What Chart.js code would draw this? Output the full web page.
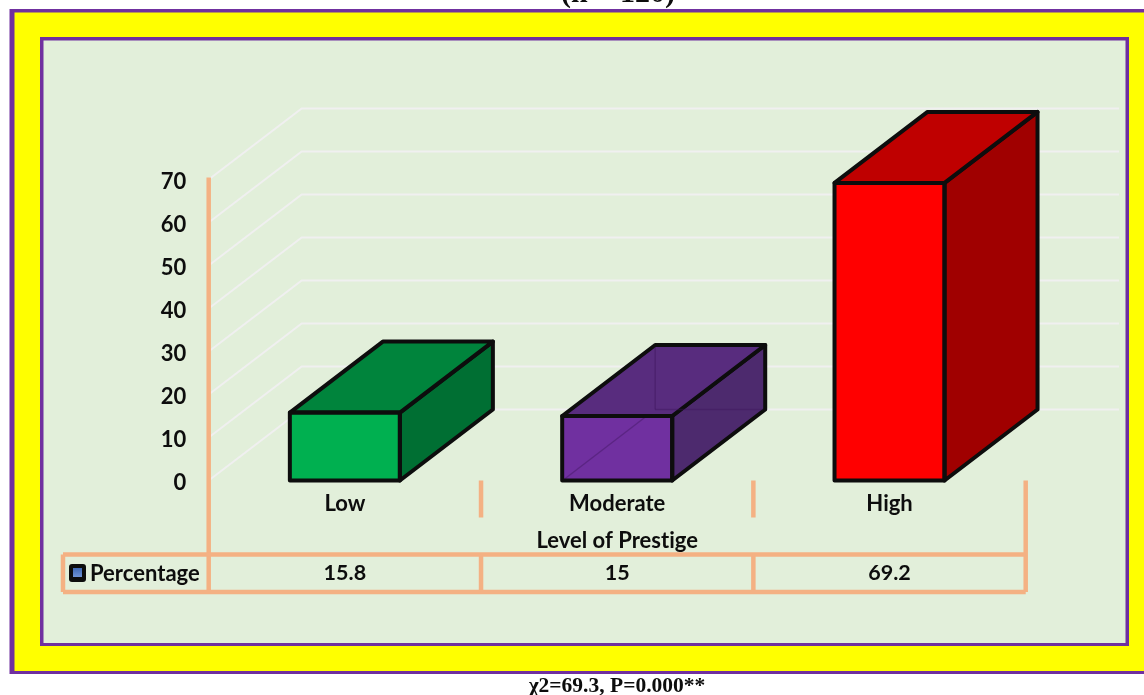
<!DOCTYPE html>
<html lang="en">
  <head>
    <meta charset="UTF-8" />
    <title>Level of Prestige</title>
    <script src="https://cdn.jsdelivr.net/npm/chart.js"></script>
    <style>
      html, body { margin: 0; padding: 0; background: #fff; }
      canvas { display: block; }
    </style>
  </head>
  <body>
    <canvas id="myChart" width="1144" height="695"></canvas>

    <script>
      const categories = ["Low", "Moderate", "High"];
      const percentages = [15.8, 15, 69.2];
      const seriesName = "Percentage";
      const axisTitle = "Level of Prestige";
      const sampleNote = "(n = 120)";
      const testNote = "χ2=69.3, P=0.000**";

      // Box colours, one per category
      const frontColors = ["#00b050", "#7030a0", "#ff0000"];
      const topColors = ["#00843c", "#582c7e", "#bf0000"];
      const sideColors = ["#006f33", "#4d2a6e", "#a00000"];
      // Moderate box lets its back edges show through
      const backEdgeColors = [null, "rgba(60, 20, 90, 0.4)", null];

      const PURPLE = "#7030a0";
      const PEACH = "#f4b183";
      const INK = "#0d0d0d";
      const WORD_FONT = "bold 22px Lato";
      const NUMBER_FONT = "bold 21.5px Lato";

      // Oblique offset of the back wall
      const DEPTH_X = 93;
      const DEPTH_Y = 71;

      function line(ctx, x1, y1, x2, y2) {
        ctx.beginPath();
        ctx.moveTo(x1, y1);
        ctx.lineTo(x2, y2);
        ctx.stroke();
      }

      function poly(ctx, points, fill) {
        ctx.beginPath();
        points.forEach((p, i) => (i ? ctx.lineTo(p[0], p[1]) : ctx.moveTo(p[0], p[1])));
        ctx.closePath();
        ctx.fillStyle = fill;
        ctx.fill();
        ctx.stroke();
      }

      function label(ctx, text, x, y, font, align) {
        ctx.font = font;
        ctx.fillStyle = INK;
        ctx.textAlign = align || "center";
        ctx.textBaseline = "middle";
        ctx.letterSpacing = "0.01px"; // keeps the "ti" in Prestige unjoined
        ctx.fillText(text, x, y);
      }

      const frames = {
        id: "frames",
        beforeDraw(chart) {
          const ctx = chart.ctx;
          ctx.save();
          ctx.fillStyle = PURPLE;
          ctx.fillRect(9.5, 9, 1134.5, 665);
          ctx.fillStyle = "#ffff00";
          ctx.fillRect(14.5, 12.5, 1129.5, 658.5);
          ctx.fillStyle = PURPLE;
          ctx.fillRect(40, 37, 1089, 609);
          ctx.fillStyle = "#e2efda";
          ctx.fillRect(43.5, 40.5, 1082, 602.5);
          ctx.restore();
        },
      };

      // Back wall lines: each y tick runs up the side wall, then along the back
      const wall = {
        id: "wall",
        beforeDatasetsDraw(chart) {
          const ctx = chart.ctx;
          const y = chart.scales.y;
          const x0 = chart.chartArea.left;
          ctx.save();
          ctx.strokeStyle = "#f0f0f0";
          ctx.lineWidth = 2;
          y.ticks.forEach((tick) => {
            const py = y.getPixelForValue(tick.value);
            ctx.beginPath();
            ctx.moveTo(x0, py);
            ctx.lineTo(x0 + DEPTH_X, py - DEPTH_Y);
            ctx.lineTo(1119, py - DEPTH_Y);
            ctx.stroke();
          });
          ctx.restore();
        },
      };

      // Side and top faces plus the outline, built on each bar element
      const boxes = {
        id: "boxes",
        afterDatasetsDraw(chart) {
          const ctx = chart.ctx;
          ctx.save();
          chart.getDatasetMeta(0).data.forEach((bar, i) => {
            const l = bar.x - bar.width / 2;
            const r = bar.x + bar.width / 2;
            const t = bar.y;
            const b = bar.base;
            if (backEdgeColors[i]) {
              ctx.strokeStyle = backEdgeColors[i];
              ctx.lineWidth = 1.5;
              line(ctx, l + 3, b - 2, l + DEPTH_X, b - DEPTH_Y);
            }
            ctx.strokeStyle = INK;
            ctx.lineWidth = 4;
            ctx.lineJoin = "round";
            poly(ctx, [[r, t], [r + DEPTH_X, t - DEPTH_Y], [r + DEPTH_X, b - DEPTH_Y], [r, b]], sideColors[i]);
            poly(ctx, [[l, t], [l + DEPTH_X, t - DEPTH_Y], [r + DEPTH_X, t - DEPTH_Y], [r, t]], topColors[i]);
            if (backEdgeColors[i]) {
              ctx.strokeStyle = backEdgeColors[i];
              ctx.lineWidth = 1.5;
              line(ctx, l + DEPTH_X, t - DEPTH_Y + 2, l + DEPTH_X, b - DEPTH_Y);
              line(ctx, l + DEPTH_X, b - DEPTH_Y, r + DEPTH_X - 2, b - DEPTH_Y);
            }
            ctx.strokeStyle = INK;
            ctx.lineWidth = 4;
            ctx.strokeRect(l, t, r - l, b - t);
          });
          ctx.restore();
        },
      };

      // Axis lines, data table under the plot and the surrounding notes
      const dataTable = {
        id: "dataTable",
        afterDraw(chart) {
          const ctx = chart.ctx;
          const area = chart.chartArea;
          const x = chart.scales.x;
          const step = x.getPixelForValue(1) - x.getPixelForValue(0);
          const edges = [area.left, area.left + step, area.left + step * 2, area.right];
          const tableTop = 554.5;
          const tableBottom = 592;
          const tableLeft = 63;

          ctx.save();
          ctx.strokeStyle = PEACH;
          ctx.lineWidth = 4.5;
          ctx.lineCap = "butt";
          line(ctx, area.left, 177.5, area.left, tableBottom);
          line(ctx, area.right, area.bottom, area.right, tableBottom);
          edges.slice(1, 3).forEach((ex) => {
            line(ctx, ex, area.bottom, ex, 517.5);
            line(ctx, ex, tableTop, ex, tableBottom);
          });
          line(ctx, tableLeft, tableTop, area.right, tableTop);
          line(ctx, tableLeft, tableBottom, area.right, tableBottom);
          line(ctx, tableLeft, tableTop, tableLeft, tableBottom);

          label(ctx, axisTitle, x.getPixelForValue(1), 540.5, WORD_FONT);
          const rowY = 573.5;
          percentages.forEach((v, i) => {
            label(ctx, String(v), x.getPixelForValue(i), rowY, NUMBER_FONT);
          });

          // legend key
          ctx.fillStyle = INK;
          ctx.beginPath();
          ctx.roundRect(69, 564, 17, 18, 3);
          ctx.fill();
          const key = ctx.createLinearGradient(0, 568, 0, 577);
          key.addColorStop(0, "#3f68b4");
          key.addColorStop(1, "#6f93d6");
          ctx.fillStyle = key;
          ctx.fillRect(73, 568, 9, 9);
          label(ctx, seriesName, 90, rowY, WORD_FONT, "left");

          label(ctx, sampleNote, 618, -5.5, "bold 30px 'Liberation Serif'");
          label(ctx, testNote, 617, 686, "bold 21.5px 'Liberation Serif'");
          ctx.restore();
        },
      };

      const ctx = document.getElementById("myChart").getContext("2d");
      new Chart(ctx, {
        type: "bar",
        data: {
          labels: categories,
          datasets: [
            {
              label: seriesName,
              data: percentages,
              backgroundColor: frontColors,
              borderWidth: 0,
              barPercentage: 0.404,
              categoryPercentage: 1,
            },
          ],
        },
        plugins: [frames, wall, boxes, dataTable],
        options: {
          responsive: false,
          animation: false,
          layout: {
            padding: { left: 0, right: 118.3, top: 179.5, bottom: 0 },
          },
          plugins: {
            legend: { display: false },
            tooltip: { enabled: false },
          },
          scales: {
            x: {
              afterFit: (axis) => { axis.height = 214.5; },
              grid: { display: false },
              border: { display: false },
              ticks: {
                padding: 2,
                color: INK,
                maxRotation: 0,
                font: { family: "Lato", size: 22, weight: "bold" },
              },
            },
            y: {
              min: 0,
              max: 70,
              afterFit: (axis) => { axis.width = 208.7; },
              grid: { display: false },
              border: { display: false },
              ticks: {
                stepSize: 10,
                padding: 14.5,
                labelOffset: 2,
                color: INK,
                font: { family: "Lato", size: 22, weight: "bold" },
              },
            },
          },
        },
      });
    </script>
  </body>
</html>
